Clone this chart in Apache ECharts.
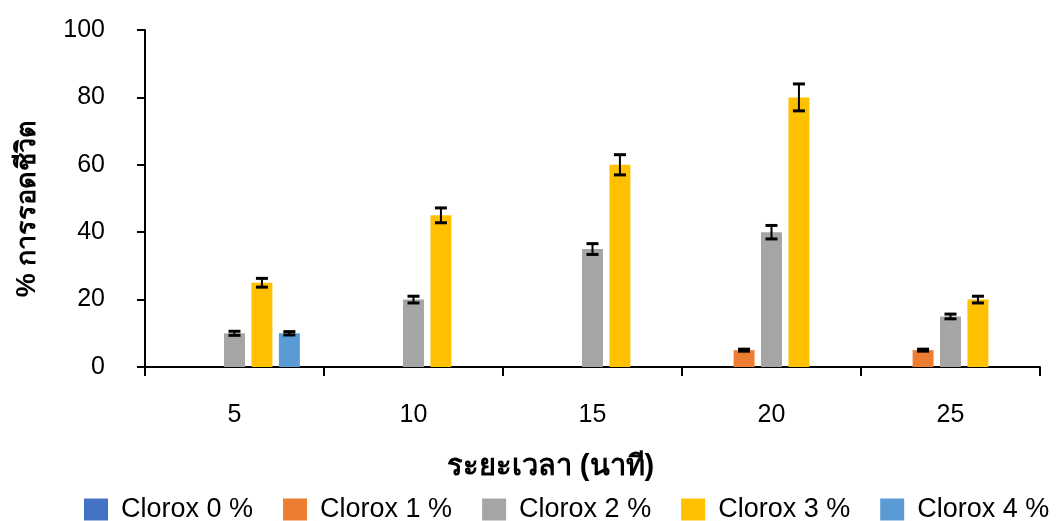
<!DOCTYPE html>
<html><head><meta charset="utf-8">
<script src="https://cdn.jsdelivr.net/npm/echarts@6/dist/echarts.min.js"></script>
<style>html,body{margin:0;padding:0;background:#fff}#c{width:1059px;height:521px}</style>
</head><body><div id="c"></div>
<script>
const categories = ['5','10','15','20','25'];
const seriesNames = ['Clorox 0 %','Clorox 1 %','Clorox 2 %','Clorox 3 %','Clorox 4 %'];
const colors = ['#4472C4','#ED7D31','#A5A5A5','#FFC000','#5B9BD5'];
const clorox0 = [0,0,0,0,0];
const clorox1 = [0,0,0,5,5];
const clorox2 = [10,20,35,40,15];
const clorox3 = [25,45,60,80,20];
const clorox4 = [10,0,0,0,0];
const err0 = [0,0,0,0,0];
const err1 = [0,0,0,0.3,0.3];
const err2 = [0.6,1,1.6,2,0.7];
const err3 = [1.3,2.2,3,4,1];
const err4 = [0.5,0,0,0,0];
const yTicks = [0,20,40,60,80,100];
const values = [clorox0,clorox1,clorox2,clorox3,clorox4];
const errors = [err0,err1,err2,err3,err4];

const FONT = '"Liberation Sans", Arial, "Noto Sans", "DejaVu Sans", sans-serif';
const CAT_GAP = 0.27, BAR_GAP = 0.31, N = values.length;

const errData = [];
values.forEach((arr, s) => arr.forEach((v, i) => {
  if (errors[s][i] > 0) errData.push([i, v, errors[s][i], s]);
}));

const series = values.map((arr, s) => ({
  name: seriesNames[s], type: 'bar', data: arr,
  itemStyle: {color: colors[s]},
  barGap: (BAR_GAP*100)+'%', barCategoryGap: (CAT_GAP*100)+'%'
}));
series.push({
  type: 'custom', name: 'err', data: errData, z: 10,
  renderItem: function (params, api) {
    const i = api.value(0), v = api.value(1), e = api.value(2), s = api.value(3);
    const band = api.size([1, 0])[0];
    const bw = band*(1-CAT_GAP)/(N + (N-1)*BAR_GAP);
    const step = bw*(1+BAR_GAP);
    const off = (s - (N-1)/2)*step;
    const top = api.coord([i, v+e]), bot = api.coord([i, v-e]);
    const x = top[0] + off, cap = 6;
    const st = {stroke: '#000', lineWidth: 2};
    const cs = {stroke: '#000', lineWidth: 3};
    return {type: 'group', children: [
      {type: 'line', shape: {x1: x, y1: top[1], x2: x, y2: bot[1]}, style: st},
      {type: 'line', shape: {x1: x-cap, y1: top[1], x2: x+cap, y2: top[1]}, style: cs},
      {type: 'line', shape: {x1: x-cap, y1: bot[1], x2: x+cap, y2: bot[1]}, style: cs}
    ]};
  }
});

const chart = echarts.init(document.getElementById('c'), null, {renderer: 'canvas'});
chart.setOption({
  animation: false,
  textStyle: {fontFamily: FONT},
  grid: {left: 145, right: 19, top: 30, bottom: 154, containLabel: false},
  legend: {
    data: seriesNames, top: 496, left: 84, width: 975, padding: 0,
    itemWidth: 24, itemHeight: 22, itemGap: 30,
    icon: 'rect',
    textStyle: {fontSize: 27, color: '#000', fontFamily: FONT, padding: [0,0,0,8]}
  },
  xAxis: {
    type: 'category', data: categories,
    name: 'ระยะเวลา (นาที)', nameLocation: 'middle', nameGap: 85,
    nameTextStyle: {fontSize: 29, fontWeight: 'bold', color: '#000', fontFamily: FONT, padding: [0,84,0,0]},
    axisLine: {lineStyle: {color: '#000', width: 2}},
    axisTick: {show: true, length: 9, lineStyle: {color: '#000', width: 2}},
    axisLabel: {fontSize: 25, color: '#000', margin: 36}
  },
  yAxis: {
    type: 'value', min: yTicks[0], max: yTicks[yTicks.length-1], interval: yTicks[1]-yTicks[0],
    name: '% การรอดชีวิต', nameLocation: 'middle', nameGap: 104, nameRotate: 90,
    nameTextStyle: {fontSize: 27, fontWeight: 'bold', color: '#000', fontFamily: FONT, padding: [0,20,0,0]},
    axisLine: {show: true, lineStyle: {color: '#000', width: 2}},
    axisTick: {show: true, length: 8, lineStyle: {color: '#000', width: 2}},
    splitLine: {show: false},
    axisLabel: {fontSize: 25, color: '#000', margin: 40}
  },
  series: series
});
</script></body></html>
